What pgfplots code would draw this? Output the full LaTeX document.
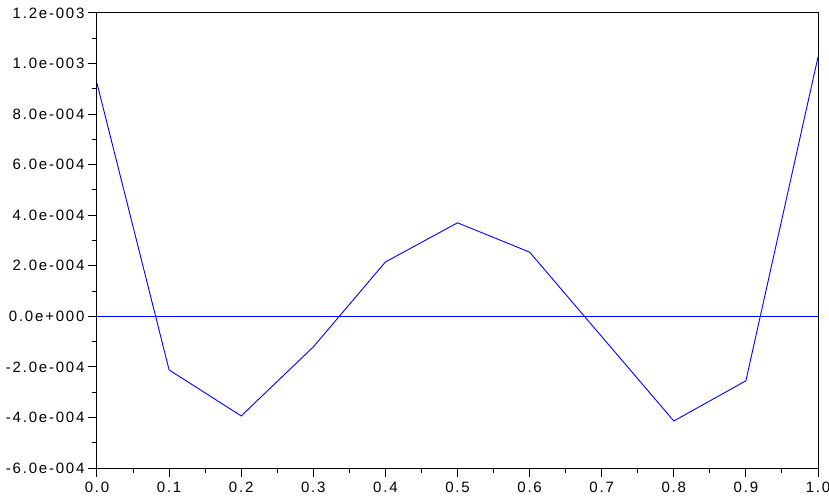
\documentclass[border=0pt]{standalone}
\usepackage{fontspec}
\setmainfont{Liberation Sans}
\newfontfamily\tickfont[LetterSpace=12]{Liberation Sans}
\usepackage{pgfplots}
\pgfplotsset{compat=1.18}
\begin{document}
\begin{tikzpicture}
\begin{axis}[
  at={(0pt,0pt)}, anchor=south west,
  scale only axis, width=721pt, height=455pt,
  xmin=0, xmax=1, ymin=-6e-4, ymax=1.2e-3,
  xtick={0,0.1,...,1.0},
  xticklabels={0.0,0.1,0.2,0.3,0.4,0.5,0.6,0.7,0.8,0.9,1.0},
  ytick={-6e-4,-4e-4,-2e-4,0,2e-4,4e-4,6e-4,8e-4,1e-3,1.2e-3},
  yticklabels={-6.0e-004,-4.0e-004,-2.0e-004,0.0e+000,2.0e-004,4.0e-004,6.0e-004,8.0e-004,1.0e-003,1.2e-003},
  minor x tick num=1, minor y tick num=1,
  tick align=outside, tick pos=left,
  major tick length=9pt, minor tick length=5pt,
  tick style={black, line width=1pt},
  axis line style={black, line width=1pt},
  ticklabel style={font=\tickfont\fontsize{15}{17}\selectfont},
  xticklabel style={yshift=-1pt},
  yticklabel style={xshift=0pt},
  scaled y ticks=false,
  clip=false,
]
\addplot[blue, line width=0.9pt] coordinates {
(0.0,9.22e-4) (0.1,-2.12e-4) (0.2,-3.94e-4) (0.3,-1.21e-4) (0.4,2.15e-4)
(0.5,3.70e-4) (0.6,2.54e-4) (0.7,-0.80e-4) (0.8,-4.14e-4) (0.9,-2.55e-4) (1.0,1.026e-3)
};
\addplot[blue, line width=0.9pt] coordinates {(0,0) (1,0)};
\end{axis}
\pgfresetboundingbox
\path (-97pt,-28pt) rectangle (732pt,468pt);
\end{tikzpicture}
\end{document}
